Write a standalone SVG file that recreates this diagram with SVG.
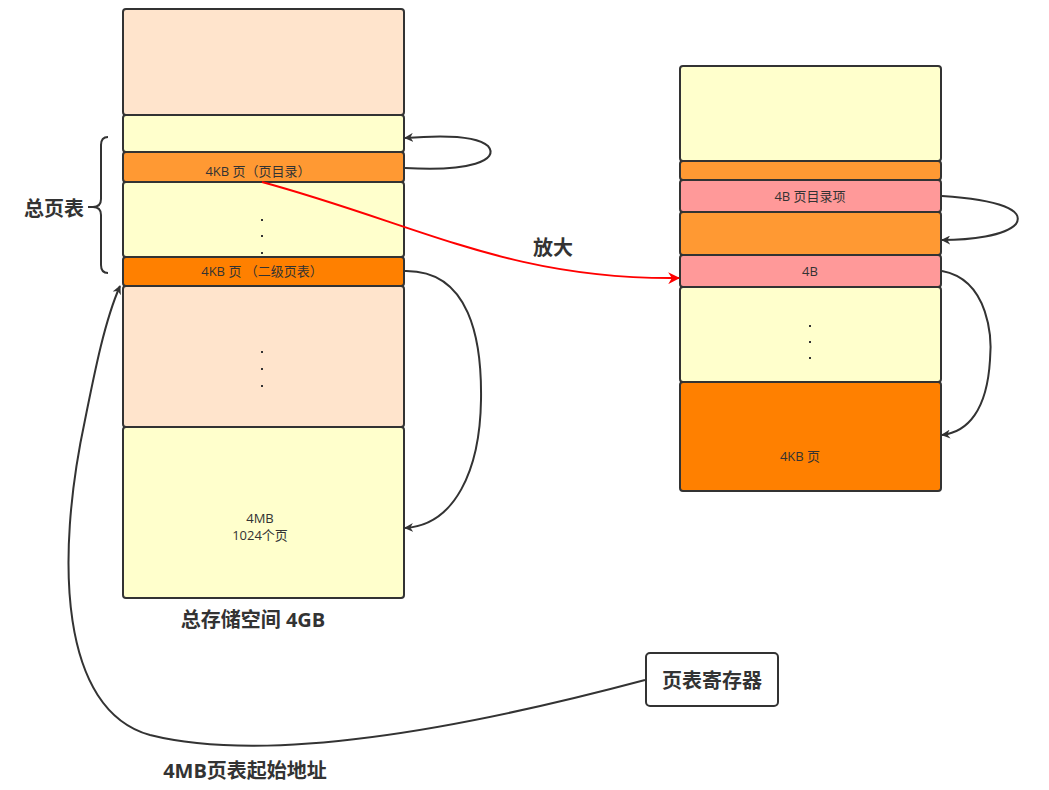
<svg xmlns="http://www.w3.org/2000/svg" width="1049" height="790" viewBox="0 0 1049 790">
<defs>
<style>
.b{stroke:#333;stroke-width:2}
.peach{fill:#FFE4CC}.yel{fill:#FFFFCC}.or1{fill:#FF9933}.or2{fill:#FF8000}.pink{fill:#FF9999}
.t{font-family:"Open Sans","Noto Sans CJK SC",sans-serif;font-size:13px;fill:#333;text-anchor:middle}
.h{font-family:"Open Sans","Noto Sans CJK SC",sans-serif;font-size:20px;font-weight:bold;fill:#333;text-anchor:middle}
.c{fill:none;stroke:#333;stroke-width:2}
.dot{fill:#333}
</style>
<marker id="ah" viewBox="0 0 10 10" refX="9" refY="5" markerWidth="9" markerHeight="9" orient="auto" markerUnits="userSpaceOnUse"><path d="M0,0 L10,5 L0,10 L3,5 z" fill="#333"/></marker>
<marker id="ar" viewBox="0 0 10 10" refX="9" refY="5" markerWidth="12" markerHeight="12" orient="auto" markerUnits="userSpaceOnUse"><path d="M0,0 L10,5 L0,10 L3,5 z" fill="#f00"/></marker>
</defs>
<g id="left-memory">
<rect class="b peach" x="123" y="9" width="281" height="106" rx="3"/>
<rect class="b yel" x="123" y="115" width="281" height="37" rx="3"/>
<rect class="b or1" x="123" y="152" width="281" height="30" rx="3"/>
<text class="t" x="258" y="176">4KB 页（页目录）</text>
<rect class="b yel" x="123" y="182" width="281" height="75" rx="3"/>
<rect class="dot" x="261" y="219" width="2" height="2"/><rect class="dot" x="261" y="235" width="2" height="2"/><rect class="dot" x="261" y="252" width="2" height="2"/>
<rect class="b or2" x="123" y="257" width="281" height="29" rx="3"/>
<text class="t" x="262" y="276">4KB 页 （二级页表）</text>
<rect class="b peach" x="123" y="286" width="281" height="141" rx="3"/>
<rect class="dot" x="261" y="351" width="2" height="2"/><rect class="dot" x="261" y="368" width="2" height="2"/><rect class="dot" x="261" y="385" width="2" height="2"/>
<rect class="b yel" x="123" y="427" width="281" height="171" rx="3"/>
<text class="t" x="260" y="523">4MB</text>
<text class="t" x="260" y="540">1024个页</text>
</g>
<g id="right-page">
<rect class="b yel" x="680" y="66" width="261" height="95" rx="3"/>
<rect class="b or1" x="680" y="161" width="261" height="19" rx="3"/>
<rect class="b or1" x="680" y="212" width="261" height="43" rx="3"/>
<rect class="b pink" x="680" y="180" width="261" height="32" rx="3"/>
<text class="t" x="810" y="201">4B 页目录项</text>
<rect class="b pink" x="680" y="255" width="261" height="32" rx="3"/>
<text class="t" x="810" y="276">4B</text>
<rect class="b yel" x="680" y="287" width="261" height="95" rx="3"/>
<rect class="dot" x="809" y="325" width="2" height="2"/><rect class="dot" x="809" y="341" width="2" height="2"/><rect class="dot" x="809" y="357" width="2" height="2"/>
<rect class="b or2" x="680" y="382" width="261" height="109" rx="3"/>
<text class="t" x="800" y="461">4KB 页</text>
</g>
<g id="register">
<rect x="646" y="653" width="132" height="53" rx="4" fill="#fff" stroke="#333" stroke-width="2"/>
<text class="h" x="712" y="688">页表寄存器</text>
</g>
<g id="labels">
<path class="c" d="M108,137 Q101,137 101,145 L101,199 Q101,207 93,207 L88,207 M93,207 Q101,207 101,215 L101,265 Q101,273 108,273"/>
<text class="h" x="54" y="216">总页表</text>
<text class="h" x="253" y="627">总存储空间 4GB</text>
<text class="h" x="553" y="255">放大</text>
<text class="h" x="245" y="778">4MB页表起始地址</text>
</g>
<g id="connectors">
<path class="c" d="M405,168 C470,172 500,160 488,146 C475,134 430,136 405,138" marker-end="url(#ah)"/>
<path class="c" d="M405,271 C470,270 482,340 481,400 C480,470 455,525 405,528" marker-end="url(#ah)"/>
<path class="c" d="M942,196 C1000,200 1025,210 1016,224 C1005,236 970,240 942,240" marker-end="url(#ah)"/>
<path class="c" d="M942,271 C990,280 992,340 990,360 C987,410 968,432 942,435" marker-end="url(#ah)"/>
<path d="M262,182 C420,225 510,280 679,278" fill="none" stroke="#f00" stroke-width="2" marker-end="url(#ar)"/>
<path class="c" d="M645,680 C420,740 250,760 150,735 C60,710 55,560 85,420 C95,370 105,320 120,286" marker-end="url(#ah)"/>
</g>
</svg>
